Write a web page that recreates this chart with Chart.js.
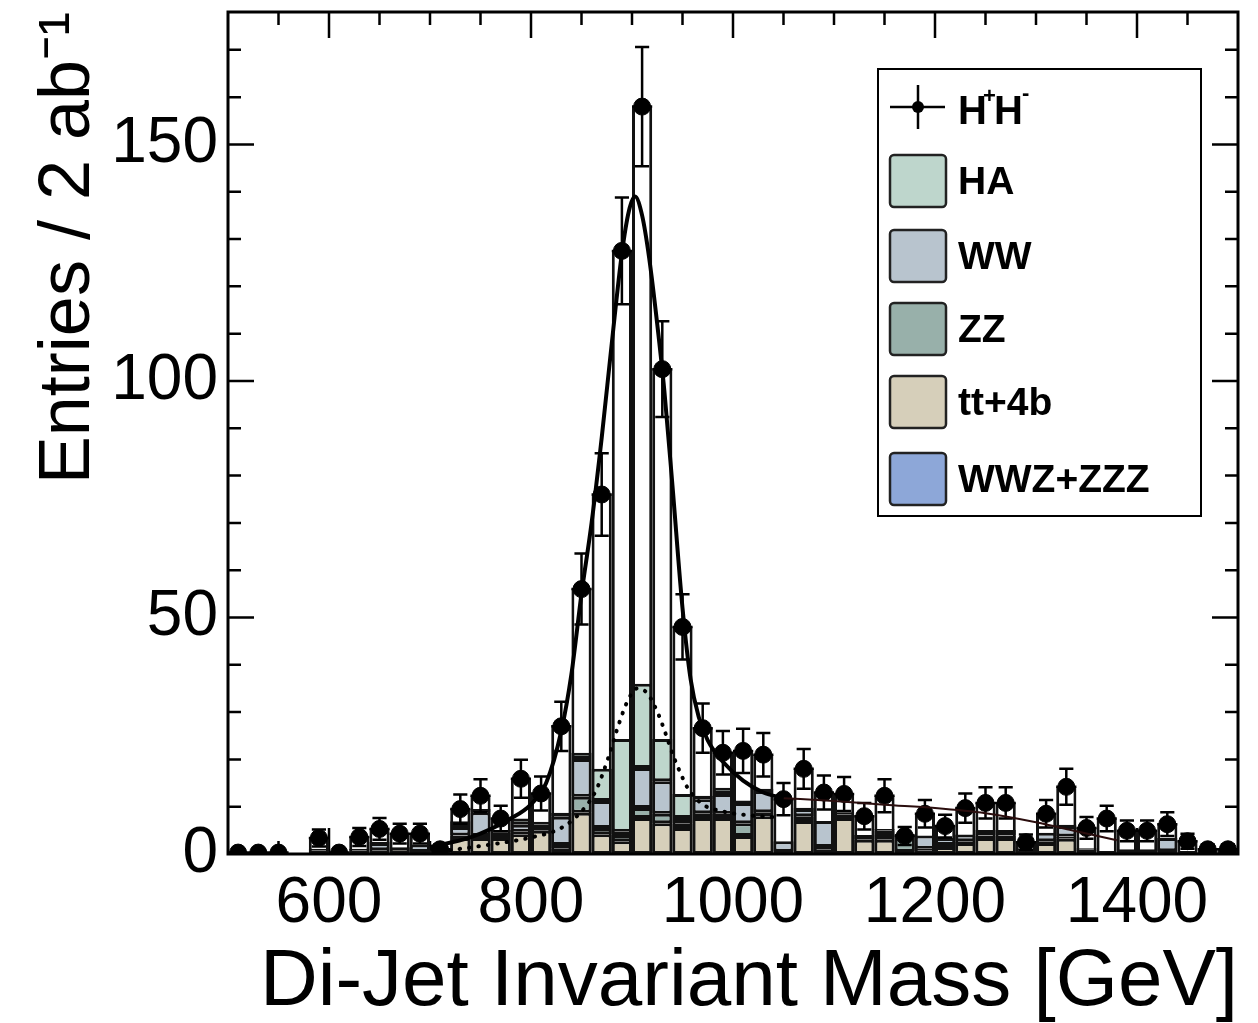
<!DOCTYPE html>
<html>
<head>
<meta charset="utf-8">
<title>Di-Jet Invariant Mass</title>
<script src="https://cdn.jsdelivr.net/npm/chart.js@4/dist/chart.umd.min.js"></script>
<style>
  html, body { margin: 0; padding: 0; background: #fff; }
  #chart { display: block; }
</style>
</head>
<body>
<canvas id="chart" width="1258" height="1023"></canvas>
<script>
// bins of 20 GeV
const binCenters = [510, 530, 550, 570, 590, 610, 630, 650, 670, 690,
    710, 730, 750, 770, 790, 810, 830, 850, 870, 890,
    910, 930, 950, 970, 990, 1010, 1030, 1050, 1070, 1090,
    1110, 1130, 1150, 1170, 1190, 1210, 1230, 1250, 1270, 1290,
    1310, 1330, 1350, 1370, 1390, 1410, 1430, 1450, 1470, 1490];

const ttbbVals = [0, 0, 0, 0, 0.3, 0, 0.8, 0.8, 1.3, 0.4,
    0.5, 3.4, 3.4, 3.4, 4.2, 4.9, 1.2, 8.7, 4.2, 2.7,
    7.6, 6.5, 5.5, 7.6, 7.6, 3.8, 8, 0.2, 7, 1,
    7.6, 3, 3, 0.5, 0.8, 1.5, 2.3, 3.4, 3.4, 0.4,
    2.3, 3.2, 0.6, 0.2, 0.2, 0.2, 0.4, 0.2, 0, 0];
const zzVals = [0, 0, 0, 0, 0, 0, 0, 0, 0, 0,
    0.2, 0.5, 0.4, 0.4, 0.5, 0.4, 0.7, 3.4, 1.3, 1.3,
    2.1, 2, 1, 1, 0.9, 2.7, 0.8, 0.3, 1, 0.5,
    0.8, 0.6, 0.8, 3.5, 0.3, 0.4, 0.4, 0.5, 0.5, 0.4,
    0.4, 0.5, 0.3, 0, 0, 0, 0.2, 0, 0, 0];
const wwVals = [0, 0, 0, 0, 0.5, 0, 0.3, 1.5, 0.2, 1.6,
    0, 1.8, 5, 0.8, 1.5, 1, 6, 8, 5.7, 0.7,
    8.5, 6.9, 1.1, 3, 4.2, 4.3, 4.5, 2.2, 1.5, 5.5,
    0.3, 0.4, 1.2, 0.3, 2.8, 1.5, 1.4, 1.2, 1.2, 0.3,
    1.8, 2.2, 0.3, 0.3, 0.8, 0.8, 2.8, 0.3, 0, 0];
const haVals = [0, 0, 0, 0, 0.3, 0, 0, 0.3, 0, 0,
    0, 1.2, 0.7, 0.5, 1.3, 0.5, 0.8, 1.3, 6.8, 19.6,
    17.8, 8.9, 5.1, 0.7, 1.3, 0.5, 0.5, 0, 0.3, 0,
    0.2, 0, 0.3, 0, 0, 0, 0, 0, 0, 0,
    0, 0.3, 0, 0, 0, 0, 0, 0, 0, 0];
const wwzVals = [0, 0, 0, 0, 0, 0, 0, 0, 0, 0,
    0, 0, 0, 0, 0, 0, 0, 0, 0, 0,
    0, 0, 0, 0, 0, 0, 0, 0, 0, 0,
    0, 0, 0, 0, 0, 0, 0, 0, 0, 0,
    0, 0, 0, 0, 0, 0, 0, 0, 0, 0];

// H+H- entries and their errors
const hhVals = [0.3, 0.3, 0.3, null, 3.4, 0.3, 3.6, 5.3, 4.3, 4.3,
    1, 9.5, 12.3, 7.5, 15.9, 12.8, 27, 56, 76, 127.5,
    158, 102.5, 48, 26.6, 21.4, 21.8, 21, 11.6, 18, 13,
    12.7, 8, 12.3, 3.8, 8.5, 5.9, 9.7, 10.8, 10.8, 2.5,
    8.5, 14.2, 5.5, 7.5, 4.9, 4.9, 6.3, 2.7, 1, 1];
const hhErr = [0.5, 0.5, 0.5, 0, 1.8, 0.5, 1.9, 2.3, 2.1, 2.1,
    1, 3.1, 3.5, 2.7, 4, 3.6, 5.2, 7.5, 8.7, 11.3,
    12.6, 10.1, 6.9, 5.2, 4.6, 4.7, 4.6, 3.4, 4.2, 3.6,
    3.6, 2.8, 3.5, 1.9, 2.9, 2.4, 3.1, 3.3, 3.3, 1.6,
    2.9, 3.8, 2.3, 2.7, 2.2, 2.2, 2.5, 1.6, 1, 1];

// fitted curves
const fitPeakX = [700, 740, 780, 800, 815, 830, 840, 850, 860, 870, 880, 890, 897, 903,
    910, 917, 925, 932, 940, 950, 958, 966, 975, 990, 1010, 1030, 1050];
const fitPeakY = [1.5, 3.5, 7.5, 10.5, 15, 26, 38, 55, 70, 88, 108, 127, 136, 139,
    135, 126, 112, 98, 78, 52, 37, 29, 24, 19.5, 15.5, 13, 11.8];
const fitTailX = [1050, 1100, 1150, 1200, 1250, 1300, 1340, 1380];
const fitTailY = [11.8, 11.2, 10.4, 9.7, 8.6, 6.7, 4.8, 2.9];
const haFitX = [720, 760, 800, 830, 850, 864, 876, 887, 896, 905, 915, 926, 933, 941,
    948, 955, 970, 990, 1010, 1040];
const haFitY = [0.8, 2, 3.5, 5.5, 9, 13.3, 20, 27.5, 32.5, 35, 34, 29.6, 25.6, 20.7,
    17.1, 14, 10.5, 9, 8.3, 7.8];

const xTickLabels = [600, 800, 1000, 1200, 1400];
const xMinorTicks = [550, 600, 650, 700, 750, 800, 850, 900, 950, 1000,
    1050, 1100, 1150, 1200, 1250, 1300, 1350, 1400, 1450];
const yTickLabels = [0, 50, 100, 150];
const yMinorTicks = [10, 20, 30, 40, 50, 60, 70, 80, 90, 100, 110, 120, 130, 140, 150, 160, 170];

const legendRows = [
    { label: 'HA', color: '#bed6cc' },
    { label: 'WW', color: '#b8c4ce' },
    { label: 'ZZ', color: '#98b0aa' },
    { label: 'tt+4b', color: '#d6cfba' },
    { label: 'WWZ+ZZZ', color: '#8da7d8' }
];

const FONT = "'Liberation Sans', Arial, Helvetica, sans-serif";

function toPoints(xs, ys) {
    return xs.map((x, i) => ({ x: x, y: ys[i] }));
}

// error bars as broken line segments (null y breaks the line)
function errorSegments() {
    const pts = [];
    binCenters.forEach((x, i) => {
        const v = hhVals[i];
        const e = hhErr[i];
        if (v === null) return;
        pts.push({ x: x - 10, y: v }, { x: x + 10, y: v }, { x: x, y: null });
        if (e > 0) {
            pts.push({ x: x, y: v - e }, { x: x, y: v + e }, { x: x, y: null });
            pts.push({ x: x - 7, y: v + e }, { x: x + 7, y: v + e }, { x: x, y: null });
            pts.push({ x: x - 7, y: v - e }, { x: x + 7, y: v - e }, { x: x, y: null });
        }
    });
    return pts;
}

function bkgBar(label, vals, color, order) {
    return {
        label: label,
        data: toPoints(binCenters, vals),
        backgroundColor: color,
        borderColor: '#111',
        borderWidth: 3,
        borderSkipped: false,
        inflateAmount: 0,
        grouped: false,
        barPercentage: 1,
        categoryPercentage: 1,
        stack: 'bkg',
        order: order
    };
}

const tickPlugin = {
    id: 'innerTicks',
    beforeDatasetsDraw(chart) {
        const { ctx, chartArea: a, scales } = chart;
        ctx.save();
        ctx.strokeStyle = '#000';
        ctx.lineWidth = 2.5;
        ctx.beginPath();
        xMinorTicks.forEach(v => {
            const px = scales.x.getPixelForValue(v);
            const len = xTickLabels.includes(v) ? 26 : 13;
            ctx.moveTo(px, a.top); ctx.lineTo(px, a.top + len);
            ctx.moveTo(px, a.bottom); ctx.lineTo(px, a.bottom - len);
        });
        yMinorTicks.forEach(v => {
            const py = scales.y.getPixelForValue(v);
            const len = yTickLabels.includes(v) ? 26 : 13;
            ctx.moveTo(a.left, py); ctx.lineTo(a.left + len, py);
            ctx.moveTo(a.right, py); ctx.lineTo(a.right - len, py);
        });
        ctx.stroke();
        ctx.restore();
    },
    afterDraw(chart) {
        const { ctx, chartArea: a } = chart;
        ctx.save();
        ctx.strokeStyle = '#000';
        ctx.lineWidth = 3;
        ctx.strokeRect(a.left, a.top, a.right - a.left, a.bottom - a.top);

        // legend box
        ctx.fillStyle = '#fff';
        ctx.fillRect(878, 69, 323, 447);
        ctx.lineWidth = 2;
        ctx.strokeRect(878, 69, 323, 447);

        // H+H- marker
        ctx.lineWidth = 2.5;
        ctx.beginPath();
        ctx.moveTo(890, 107); ctx.lineTo(945, 107);
        ctx.moveTo(918, 85); ctx.lineTo(918, 129);
        ctx.stroke();
        ctx.beginPath();
        ctx.arc(918, 107, 6, 0, Math.PI * 2);
        ctx.fillStyle = '#000';
        ctx.fill();

        ctx.textBaseline = 'alphabetic';
        ctx.font = 'bold 40px ' + FONT;
        ctx.fillText('H', 958, 124);
        ctx.fillText('H', 994, 124);
        ctx.font = 'bold 22px ' + FONT;
        ctx.fillText('+', 983, 103);
        ctx.fillText('-', 1022, 100);

        const rowY = [181, 256, 329, 402, 479];
        legendRows.forEach((row, i) => {
            const top = rowY[i] - 26;
            ctx.beginPath();
            ctx.roundRect(890, top, 56, 52, 4);
            ctx.fillStyle = row.color;
            ctx.fill();
            ctx.lineWidth = 2.5;
            ctx.strokeStyle = '#222';
            ctx.stroke();
            ctx.fillStyle = '#000';
            ctx.font = 'bold 39px ' + FONT;
            ctx.textBaseline = 'middle';
            ctx.fillText(row.label, 958, rowY[i] + 2);
        });
        ctx.restore();
    }
};

const chart = new Chart(document.getElementById('chart'), {
    type: 'bar',
    data: {
        datasets: [
            {
                type: 'line', label: 'fit', data: toPoints(fitPeakX, fitPeakY),
                borderColor: '#000', borderWidth: 4, pointRadius: 0,
                cubicInterpolationMode: 'monotone', stack: 'fitPeak', order: -4
            },
            {
                type: 'line', label: 'fit tail', data: toPoints(fitTailX, fitTailY),
                borderColor: '#2a0d0d', borderWidth: 2, pointRadius: 0,
                cubicInterpolationMode: 'monotone', stack: 'fitTail', order: -4
            },
            {
                type: 'line', label: 'HA fit', data: toPoints(haFitX, haFitY),
                borderColor: '#000', borderWidth: 4, borderDash: [0.5, 9], borderCapStyle: 'round',
                pointRadius: 0, cubicInterpolationMode: 'monotone', stack: 'haFit', order: -3
            },
            {
                type: 'line', label: 'errors', data: errorSegments(),
                borderColor: '#000', borderWidth: 2.5, pointRadius: 0, spanGaps: false,
                stack: 'err', order: -2
            },
            {
                type: 'line', label: 'H+H-', data: toPoints(binCenters, hhVals),
                showLine: false, pointRadius: 8.5, pointBackgroundColor: '#000',
                pointBorderColor: '#000', stack: 'pts', order: -1
            },
            bkgBar('tt+4b', ttbbVals, '#d6cfba', 1),
            bkgBar('ZZ', zzVals, '#98b0aa', 2),
            bkgBar('WW', wwVals, '#b8c4ce', 3),
            bkgBar('HA', haVals, '#bed6cc', 4),
            bkgBar('WWZ+ZZZ', wwzVals, '#8da7d8', 5),
            {
                label: 'H+H- hist', data: toPoints(binCenters, hhVals),
                backgroundColor: '#fff', borderColor: '#111', borderWidth: 3,
                borderSkipped: false, inflateAmount: 0, grouped: false,
                barPercentage: 1, categoryPercentage: 1, stack: 'tot', order: 10
            }
        ]
    },
    options: {
        responsive: false,
        devicePixelRatio: 1,
        animation: false,
        events: [],
        layout: { padding: { top: 12, right: 20, left: 0, bottom: 0 } },
        plugins: {
            legend: { display: false },
            tooltip: { enabled: false }
        },
        scales: {
            x: {
                type: 'linear', min: 500, max: 1500, offset: false,
                grid: { display: false, drawTicks: false },
                border: { display: false },
                afterBuildTicks: scale => { scale.ticks = xTickLabels.map(v => ({ value: v })); },
                afterFit: scale => {
                    scale.height = 169;
                    scale.paddingLeft = 0;
                    scale.paddingRight = 0;
                },
                ticks: {
                    color: '#000', padding: 12, maxRotation: 0, autoSkip: false,
                    font: { family: FONT, size: 64 },
                    callback: v => String(v)
                },
                title: {
                    display: true, text: 'Di-Jet Invariant Mass [GeV]', align: 'end',
                    color: '#000', padding: { top: 0, bottom: 0 },
                    font: { family: FONT, size: 80, lineHeight: 1.0 }
                }
            },
            y: {
                type: 'linear', min: 0, max: 178, stacked: true,
                grid: { display: false, drawTicks: false },
                border: { display: false },
                afterBuildTicks: scale => { scale.ticks = yTickLabels.map(v => ({ value: v })); },
                afterFit: scale => {
                    scale.width = 228;
                    scale.paddingTop = 0;
                    scale.paddingBottom = 0;
                },
                ticks: {
                    color: '#000', padding: 10,
                    font: { family: FONT, size: 64 },
                    callback: v => String(v)
                },
                title: {
                    display: true, text: 'Entries / 2 ab\u207B\u00B9', align: 'end',
                    color: '#000', padding: { top: 30, bottom: 0 },
                    font: { family: FONT, size: 72, lineHeight: 1.1 }
                }
            }
        }
    },
    plugins: [tickPlugin]
});
</script>
</body>
</html>
